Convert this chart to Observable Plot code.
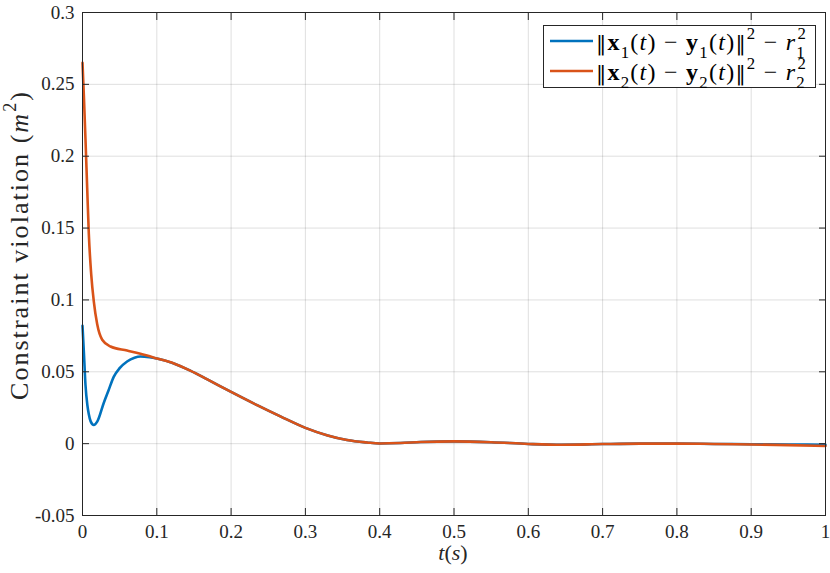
<!DOCTYPE html>
<html><head><meta charset="utf-8">
<script src="https://cdn.jsdelivr.net/npm/d3@7"></script>
<script src="https://cdn.jsdelivr.net/npm/@observablehq/plot@0.6"></script>
<style>body{margin:0;background:#fff} svg{display:block}</style>
</head><body><div id="chart"></div>
<script>
// ---- data ----
const tBlue = [0, 0.002, 0.004, 0.0065, 0.0085, 0.011, 0.0152, 0.02, 0.0287, 0.035, 0.042, 0.05, 0.06, 0.07, 0.078, 0.09, 0.10,
  0.123, 0.145, 0.168, 0.2, 0.235, 0.267, 0.3, 0.33, 0.356, 0.383, 0.40, 0.428, 0.455, 0.5, 0.55, 0.6, 0.645, 0.7, 0.75, 0.8, 0.85, 0.9, 0.95, 1.0];
const vBlue = [0.082, 0.062, 0.041, 0.027, 0.0205, 0.0155, 0.013, 0.0155, 0.0285, 0.037, 0.0465, 0.0525, 0.0572, 0.0598, 0.0606, 0.0601, 0.0592,
  0.0558, 0.0508, 0.0447, 0.0360, 0.0268, 0.0188, 0.0110, 0.0057, 0.0025, 0.0008, 0.0001, 0.0004, 0.0011, 0.0016, 0.0010, -0.0002, -0.0008, -0.0003, 0.0000, 0.0000, -0.0002, -0.0004, -0.0006, -0.0008];
const tOrange = [0, 0.002, 0.004, 0.0063, 0.0085, 0.0117, 0.0152, 0.0198, 0.0265, 0.0377, 0.06, 0.078, 0.10,
  0.123, 0.145, 0.168, 0.2, 0.235, 0.267, 0.3, 0.33, 0.356, 0.383, 0.40, 0.428, 0.455, 0.5, 0.55, 0.6, 0.645, 0.7, 0.75, 0.8, 0.85, 0.9, 0.95, 1.0];
const vOrange = [0.265, 0.240, 0.212, 0.178, 0.146, 0.118, 0.099, 0.083, 0.0723, 0.0676, 0.0648, 0.0625, 0.0593,
  0.0558, 0.0508, 0.0447, 0.0360, 0.0268, 0.0188, 0.0110, 0.0057, 0.0025, 0.0008, 0.0001, 0.0004, 0.0011, 0.0016, 0.0010, -0.0002, -0.0008, -0.0003, 0.0000, 0.0000, -0.0002, -0.0006, -0.0010, -0.0016];
const xTicks = [0, 0.1, 0.2, 0.3, 0.4, 0.5, 0.6, 0.7, 0.8, 0.9, 1];
const yTicks = [-0.05, 0, 0.05, 0.1, 0.15, 0.2, 0.25, 0.3];
const seriesColors = ["#0072BD", "#D95319"];
// legend labels: [text, kind, dx]
const legend1 = [["‖","bar"],["x","b"],["1","sub"],["(","n"],["t","i"],[")","n"],[" − ","n"],["y","b"],["1","sub"],["(","n"],["t","i"],[")","n"],["‖","bar"],["2","sup"],[" − ","n"],["r","i"],["1","sub"],["2","sup",-1]];
const legend2 = [["‖","bar"],["x","b"],["2","sub"],["(","n"],["t","i"],[")","n"],[" − ","n"],["y","b"],["2","sub"],["(","n"],["t","i"],[")","n"],["‖","bar"],["2","sup"],[" − ","n"],["r","i"],["2","sub"],["2","sup",-1]];
const xLabel = [["t","i"],["(","n"],["s","i"],[")","n"]];
const yLabel = [["Constraint violation (","n"],["m","i"],["2","sup"],[")","n"]];

const SERIF = '"Liberation Serif", "Times New Roman", "FreeSerif"';
const fmt = d => String(+d.toFixed(2));
const blue = tBlue.map((t, i) => ({t, v: vBlue[i]}));
const orange = tOrange.map((t, i) => ({t, v: vOrange[i]}));
const noText = () => "";

const plot = Plot.plot({
  width: 830, height: 573,
  marginLeft: 82, marginRight: 5, marginTop: 12, marginBottom: 58,
  style: {fontFamily: SERIF, fontSize: "19px", color: "#262626", background: "#fff"},
  x: {domain: [0, 1]},
  y: {domain: [-0.05, 0.3]},
  marks: [
    Plot.gridX(xTicks, {stroke: "#262626", strokeOpacity: 0.15, strokeWidth: 1}),
    Plot.gridY(yTicks, {stroke: "#262626", strokeOpacity: 0.15, strokeWidth: 1}),
    Plot.line(blue, {x: "t", y: "v", stroke: seriesColors[0], strokeWidth: 2.6, curve: "monotone-x"}),
    Plot.line(orange, {x: "t", y: "v", stroke: seriesColors[1], strokeWidth: 2.6, curve: "monotone-x"}),
    Plot.frame({stroke: "#262626", strokeWidth: 1}),
    Plot.axisX(xTicks, {anchor: "bottom", tickSize: -7, tickFormat: noText, label: null, stroke: "#262626"}),
    Plot.axisX(xTicks, {anchor: "top", tickSize: -7, tickFormat: noText, label: null, stroke: "#262626"}),
    Plot.axisY(yTicks, {anchor: "left", tickSize: -7, tickFormat: noText, label: null, stroke: "#262626"}),
    Plot.axisY(yTicks, {anchor: "right", tickSize: -7, tickFormat: noText, label: null, stroke: "#262626"}),
    Plot.axisX(xTicks, {anchor: "bottom", tickSize: 0, tickPadding: 9, tickFormat: fmt, label: null, fill: "#262626"}),
    Plot.axisY(yTicks, {anchor: "left", tickSize: 0, tickPadding: 8, tickFormat: fmt, label: null, fill: "#262626"})
  ]
});
plot.querySelectorAll("text").forEach(t => t.style.fontFamily = SERIF);
document.getElementById("chart").appendChild(plot);

function addMath(g, x, y, size, parts, len) {
  const text = g.append("text").attr("x", x).attr("y", y)
    .attr("font-size", size).style("font-family", SERIF)
    .attr("fill", "#000").attr("text-anchor", "start");
  let shift = 0;
  for (const [s, kind, dxEm] of parts) {
    const target = kind === "sub" ? 0.34 * size : kind === "sup" ? -0.46 * size : 0;
    const ts = text.append("tspan").text(s).attr("dy", target - shift);
    shift = target;
    if (kind === "sub" || kind === "sup") ts.attr("font-size", 0.7 * size);
    if (kind === "b") ts.attr("font-weight", "bold");
    if (kind === "i") ts.style("font-style", "italic");
    if (kind === "bar") ts.style("font-family", '"DejaVu Serif"').attr("font-size", 0.85 * size);
    if (dxEm) ts.attr("dx", dxEm * 0.5 * 0.7 * size);
  }
  if (len) text.attr("textLength", len).attr("lengthAdjust", "spacing");
  return text;
}

const svg = d3.select(plot);
// axis labels
addMath(svg, 453, 560, 22, xLabel).attr("text-anchor", "middle").attr("fill", "#262626");
const yl = svg.append("g").attr("transform", "translate(28,246) rotate(-90)");
addMath(yl, 0, 0, 26, yLabel, 308).attr("text-anchor", "middle").attr("fill", "#262626");

// legend
const lg = svg.append("g");
lg.append("rect").attr("x", 543.5).attr("y", 25.5).attr("width", 272).attr("height", 62)
  .attr("fill", "#fff").attr("stroke", "#262626").attr("stroke-width", 1);
[legend1, legend2].forEach((parts, i) => {
  const cy = 41 + i * 30;
  lg.append("line").attr("x1", 550).attr("x2", 593).attr("y1", cy).attr("y2", cy)
    .attr("stroke", seriesColors[i]).attr("stroke-width", 2.6);
  addMath(lg, 596, cy + 9, 24, parts, 210);
});
</script></body></html>
